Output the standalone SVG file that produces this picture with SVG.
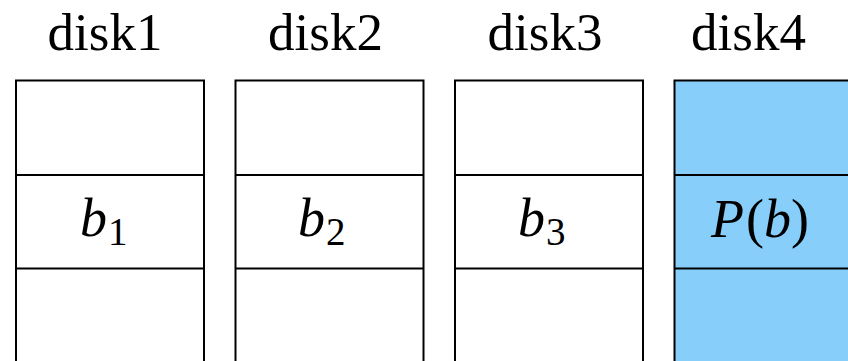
<svg xmlns="http://www.w3.org/2000/svg" width="848" height="361" viewBox="0 0 848 361">
  <style>
    .cell { fill: #ffffff; stroke: #000000; stroke-width: 2; }
    .parity { fill: #87cefa; stroke: #000000; stroke-width: 2; }
    .sep { stroke: #000000; stroke-width: 2; }
    .head { font-family: "Liberation Serif", "Times New Roman", serif; font-size: 53px; fill: #000; }
    .math { font-family: "Liberation Serif", "Times New Roman", serif; font-size: 54px; font-style: italic; fill: #000; }
    .sub { font-style: normal; font-size: 39px; }
    .up { font-style: normal; }
  </style>
  <rect width="848" height="361" fill="#ffffff"/>
  <g id="disk1">
    <text class="head" x="105" y="50" text-anchor="middle">disk1</text>
    <rect class="cell" x="16" y="80.5" width="188" height="300"/>
    <line class="sep" x1="16" y1="175" x2="204" y2="175"/>
    <line class="sep" x1="16" y1="268.5" x2="204" y2="268.5"/>
    <text class="math" x="80" y="236">b<tspan class="sub" dx="1" dy="9">1</tspan></text>
  </g>
  <g id="disk2">
    <text class="head" x="325.5" y="50" text-anchor="middle">disk2</text>
    <rect class="cell" x="235.5" y="80.5" width="188" height="300"/>
    <line class="sep" x1="235.5" y1="175" x2="423.5" y2="175"/>
    <line class="sep" x1="235.5" y1="268.5" x2="423.5" y2="268.5"/>
    <text class="math" x="298" y="236">b<tspan class="sub" dx="1" dy="9">2</tspan></text>
  </g>
  <g id="disk3">
    <text class="head" x="545" y="50" text-anchor="middle">disk3</text>
    <rect class="cell" x="455" y="80.5" width="188" height="300"/>
    <line class="sep" x1="455" y1="175" x2="643" y2="175"/>
    <line class="sep" x1="455" y1="268.5" x2="643" y2="268.5"/>
    <text class="math" x="518" y="236">b<tspan class="sub" dx="1" dy="9">3</tspan></text>
  </g>
  <g id="disk4">
    <text class="head" x="748.5" y="50" text-anchor="middle">disk4</text>
    <rect class="parity" x="674.5" y="80.5" width="188" height="300"/>
    <line class="sep" x1="674.5" y1="175" x2="862.5" y2="175"/>
    <line class="sep" x1="674.5" y1="268.5" x2="862.5" y2="268.5"/>
    <text class="math" x="760" y="237" text-anchor="middle">P<tspan class="up" dx="2">(</tspan>b<tspan class="up">)</tspan></text>
  </g>
</svg>
